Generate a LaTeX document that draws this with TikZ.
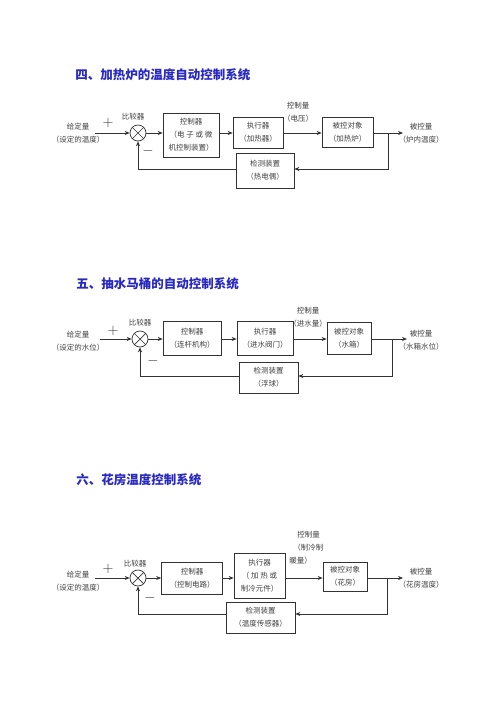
\documentclass[tikz,border=0pt]{standalone}
\usepackage{fontspec}
\setmainfont{Noto Sans CJK SC}
\usetikzlibrary{positioning, arrows.meta, calc}
\definecolor{titleblue}{RGB}{40,40,195}

\begin{document}
\begin{tikzpicture}[
        x=1pt, y=-1pt,
        >={Stealth[length=5pt, width=4pt]},
        line width=0.7pt,
        every node/.style={text=black!75, font=\fontsize{7.5}{13}\selectfont},
        block/.style={draw=black!80, rectangle, align=center, inner sep=0pt},
        sum/.style={draw=black!80, circle, minimum size=16pt, inner sep=0pt,
            path picture={\draw[black!80] (path picture bounding box.north west) -- (path picture bounding box.south east)
                (path picture bounding box.north east) -- (path picture bounding box.south west);}},
        heading/.style={anchor=west, inner sep=0pt, text=titleblue, font=\fontsize{12.5}{15}\selectfont\bfseries},
        tag/.style={align=center},
        sign/.style={font=\Large, text=black!80},
        conn/.style={draw=black!80, ->},
    ]
    \useasboundingbox[fill=white] (0,0) rectangle (500,707);

        % Draw the heating furnace loop
        \node[heading] (title-1) at (75,75) {四、加热炉的温度自动控制系统};
        \node[tag] (ref-1) at (78,133.5) {给定量\\（设定的温度）};
        \node[sum] (sum-1) at (138,133) {};
        \node (cmp-1) at (133,117) {比较器};
        \node[sign] (plus-1) at (108,123) {$+$};
        \node[sign] (minus-1) at (148,151) {$-$};
        \node[block, minimum width=56pt, minimum height=44pt] (ctrl-1) at (191,135) {控制器\\（电 子 或 微\\机控制装置）};
        \node[block, minimum width=50pt, minimum height=31pt] (act-1) at (258,132.5) {执行器\\（加热器）};
        \node[tag] (u-1) at (298,112.5) {控制量\\（电压）};
        \node[block, minimum width=51pt, minimum height=30pt] (plant-1) at (347.5,132) {被控对象\\（加热炉）};
        \node[tag] (y-1) at (421,133.5) {被控量\\（炉内温度）};
        \node[block, minimum width=58pt, minimum height=35pt] (sens-1) at (265,170.5) {检测装置\\（热电偶）};
        \coordinate (in-1) at (95,133);
        \coordinate (out-1) at (403,133);
        \coordinate (br-1) at (388,133);
        \coordinate (fb-1) at (388,169);

        % Draw the cistern loop
        \node[heading] (title-2) at (76,284) {五、抽水马桶的自动控制系统};
        \node[tag] (ref-2) at (78,341) {给定量\\（设定的水位）};
        \node[sum] (sum-2) at (140,339) {};
        \node (cmp-2) at (140,323) {比较器};
        \node[sign] (plus-2) at (113,331) {$+$};
        \node[sign] (minus-2) at (153,361) {$-$};
        \node[block, minimum width=58pt, minimum height=34pt] (ctrl-2) at (192,338) {控制器\\（连杆机构）};
        \node[block, minimum width=56pt, minimum height=34pt] (act-2) at (265,338) {执行器\\（进水阀门）};
        \node[tag] (u-2) at (308,317.5) {控制量\\（进水量）};
        \node[block, minimum width=44pt, minimum height=32pt] (plant-2) at (349,338) {被控对象\\（水箱）};
        \node[tag] (y-2) at (421,340) {被控量\\（水箱水位）};
        \node[block, minimum width=59pt, minimum height=31pt] (sens-2) at (268.5,377.5) {检测装置\\（浮球）};
        \coordinate (in-2) at (100,339);
        \coordinate (out-2) at (407,339);
        \coordinate (br-2) at (392,339);
        \coordinate (fb-2) at (392,376);

        % Draw the greenhouse loop
        \node[heading] (title-3) at (76,480) {六、花房温度控制系统};
        \node[tag] (ref-3) at (78,581.5) {给定量\\（设定的温度）};
        \node[sum] (sum-3) at (138,578) {};
        \node (cmp-3) at (135,564) {比较器};
        \node[sign] (plus-3) at (108,569) {$+$};
        \node[sign] (minus-3) at (150,598) {$-$};
        \node[block, minimum width=61pt, minimum height=32pt] (ctrl-3) at (192,578) {控制器\\（控制电路）};
        \node[block, minimum width=51pt, minimum height=45pt] (act-3) at (259.5,575.5) {执行器\\（ 加 热 或\\制冷元件）};
        \node[tag, align=left, anchor=west, inner sep=0pt] (u-3) at (289,548) {\hspace*{8pt}控制量\\\hspace*{4pt}（制冷制\\暖量）};
        \node[block, minimum width=44pt, minimum height=29pt] (plant-3) at (345,576.5) {被控对象\\（花房）};
        \node[tag] (y-3) at (421,578.5) {被控量\\（花房温度）};
        \node[block, minimum width=69pt, minimum height=31pt] (sens-3) at (260.5,617.5) {检测装置\\（温度传感器）};
        \coordinate (in-3) at (95,578);
        \coordinate (out-3) at (403,578);
        \coordinate (br-3) at (387,578);
        \coordinate (fb-3) at (387,614);

        % Forward path and feedback path of every loop
        \foreach \n in {1,2,3} {
            \draw[conn] (in-\n) -- (sum-\n);
            \foreach \a/\b in {sum/ctrl, ctrl/act, act/plant}
                \draw[conn] (\a-\n.east |- sum-\n) -- (\b-\n.west |- sum-\n);
            \draw[conn] (plant-\n.east |- sum-\n) -- (out-\n);
            \draw[conn] (br-\n) -- (fb-\n) -- (fb-\n -| sens-\n.east);
            \draw[conn] (fb-\n -| sens-\n.west) -| (sum-\n.south);
        }
    \end{tikzpicture}
\end{document}
